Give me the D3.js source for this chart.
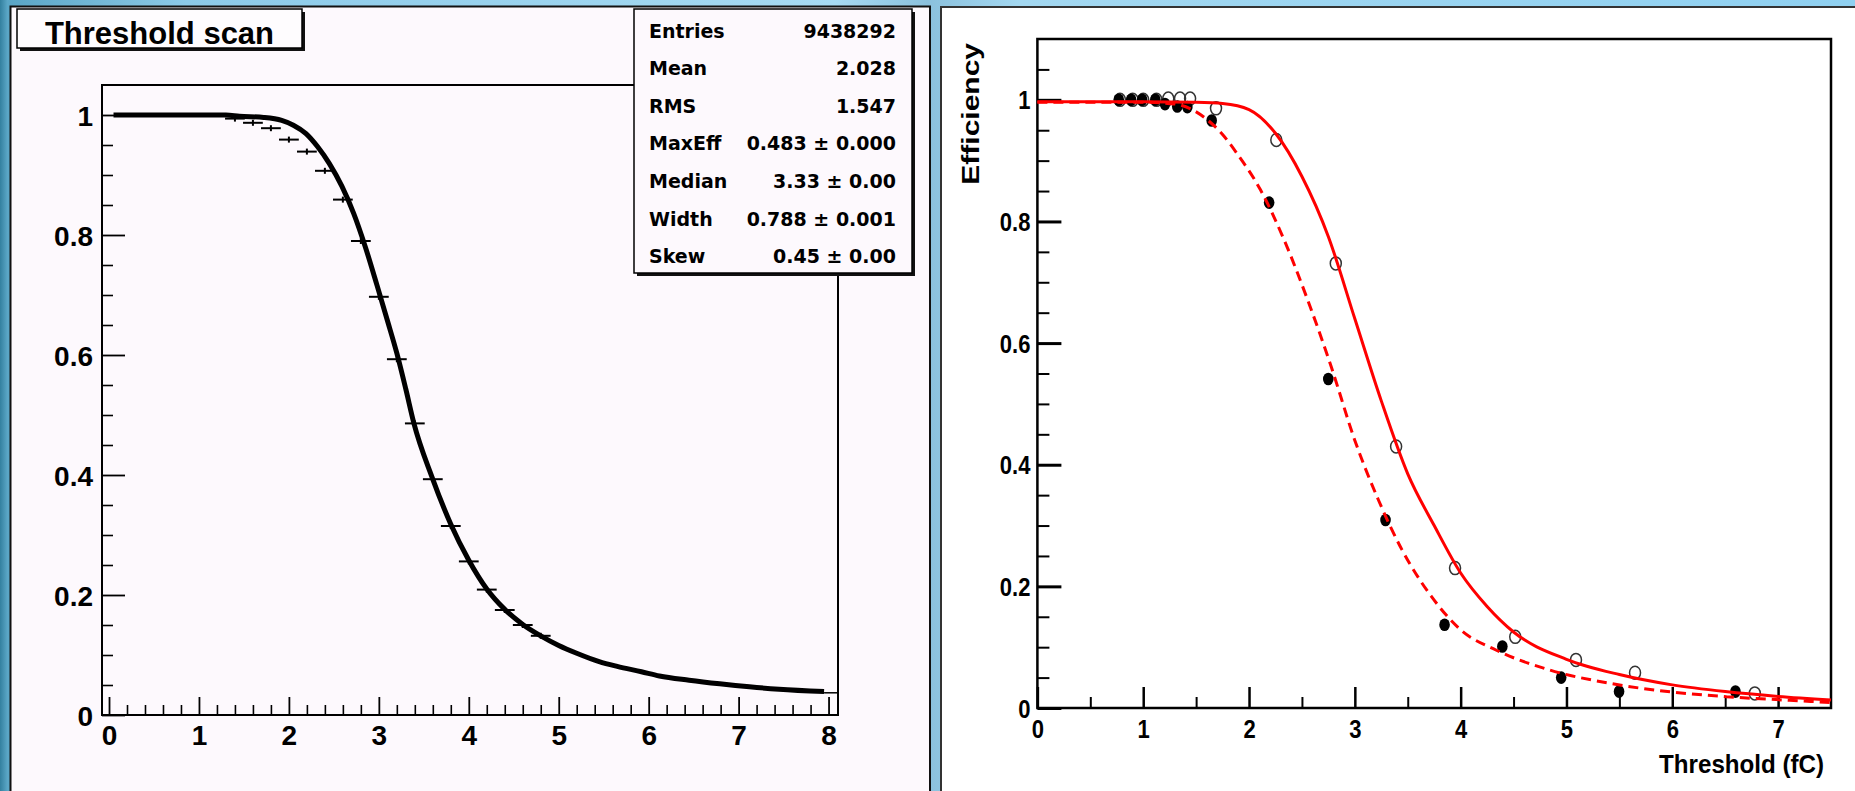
<!DOCTYPE html>
<html>
<head>
<meta charset="utf-8">
<script src="https://cdn.jsdelivr.net/npm/d3@7"></script>
<style>
  html, body { margin: 0; padding: 0; overflow: hidden; background: #9fd2ec; }
  svg { display: block; }
</style>
</head>
<body>
<svg id="chart" width="1855" height="791"></svg>
<script>
// ---------------- Left panel: threshold scan ----------------
const scanX = [0.05, 0.5, 1.0, 1.3, 1.45, 1.72, 1.92, 2.05, 2.19, 2.32, 2.45, 2.59, 2.72, 2.85, 2.98,
               3.1, 3.2, 3.3, 3.39, 3.59, 3.8, 4.0, 4.2, 4.4, 4.6, 4.8, 5.0, 5.2, 5.45, 5.65,
               5.92, 6.12, 6.45, 6.79, 7.12, 7.45, 7.95];
const scanY = [1.0, 1.0, 1.0, 1.0, 0.998, 0.996, 0.991, 0.983, 0.969, 0.947, 0.919, 0.881, 0.836, 0.78, 0.716,
               0.655, 0.603, 0.543, 0.486, 0.397, 0.318, 0.258, 0.21, 0.176, 0.151, 0.132, 0.116, 0.103, 0.089, 0.081,
               0.072, 0.065, 0.058, 0.052, 0.047, 0.043, 0.039];
const lastBinX = [7.95, 8.105];
const lastBinY = [0.037, 0.037];

const binCentres = [1.4, 1.6, 1.8, 2.0, 2.2, 2.4, 2.6, 2.8, 3.0, 3.2, 3.4, 3.6, 3.8, 4.0, 4.2, 4.4, 4.6, 4.8];
const binValues  = [0.994, 0.987, 0.978, 0.959, 0.939, 0.907, 0.859, 0.790, 0.697, 0.593, 0.486, 0.393,
                    0.315, 0.256, 0.209, 0.175, 0.150, 0.132];
const binHalfWidth = 0.11;

const scanTitle = "Threshold scan";
const statLabels = ["Entries", "Mean", "RMS", "MaxEff", "Median", "Width", "Skew"];
const statValues = ["9438292", "2.028", "1.547", "0.483 \u00b1 0.000", "3.33 \u00b1 0.00", "0.788 \u00b1 0.001", "0.45 \u00b1 0.00"];

const leftMajorX = [0, 1, 2, 3, 4, 5, 6, 7, 8];
const leftMajorY = [0, 0.2, 0.4, 0.6, 0.8, 1];

// ---------------- Right panel: efficiency vs threshold ----------------
const filledX = [0.769, 0.886, 0.99, 1.115, 1.206, 1.322, 1.417, 1.647, 2.19, 2.749, 3.29, 3.848, 4.394, 4.95, 5.497, 6.597];
const filledY = [1.0, 1.0, 1.0, 1.0, 0.993, 0.989, 0.988, 0.966, 0.831, 0.541, 0.309, 0.137, 0.101, 0.05, 0.027, 0.027];
const openX = [0.78, 0.9, 1.0, 1.125, 1.237, 1.348, 1.443, 1.688, 2.258, 2.82, 3.39, 3.947, 4.516, 5.09, 5.648, 6.78];
const openY = [1.0, 1.0, 1.0, 1.0, 1.002, 1.002, 1.002, 0.986, 0.934, 0.731, 0.43, 0.23, 0.117, 0.079, 0.058, 0.024];

const fitOpenX = [0, 0.5, 1.0, 1.5, 1.75, 2.0, 2.25, 2.5, 2.75, 3.0, 3.25, 3.5, 3.75, 4.0, 4.25, 4.5,
                  5.0, 5.5, 6.0, 6.5, 7.0, 7.5];
const fitOpenY = [0.997, 0.997, 0.997, 0.996, 0.994, 0.984, 0.945, 0.874, 0.775, 0.64, 0.505, 0.385, 0.3, 0.222, 0.167, 0.125,
                  0.08, 0.055, 0.038, 0.027, 0.019, 0.013];
const fitFilledX = [0, 0.5, 1.0, 1.3, 1.45, 1.6, 1.75, 1.885, 2.108, 2.331, 2.554, 2.777, 3.0, 3.223, 3.446, 3.725,
                    4.004, 4.338, 4.84, 5.397, 5.955, 6.512, 7.07, 7.5];
const fitFilledY = [0.996, 0.996, 0.996, 0.993, 0.985, 0.968, 0.943, 0.912, 0.852, 0.77, 0.671, 0.561, 0.44, 0.342, 0.26, 0.183,
                    0.128, 0.095, 0.0625, 0.041, 0.027, 0.0186, 0.013, 0.009];

const rightMajorX = [0, 1, 2, 3, 4, 5, 6, 7];
const rightMajorY = [0, 0.2, 0.4, 0.6, 0.8, 1];
const xTitle = "Threshold (fC)";
const yTitle = "Efficiency";

// ---------------- drawing ----------------
const svg = d3.select("#chart");
const ARIAL = "'Liberation Sans', Arial, Helvetica, sans-serif";
const DEJAVU = "'DejaVu Sans', Verdana, sans-serif";

// desktop backdrop
const defs = svg.append("defs");
const bg = defs.append("linearGradient").attr("id", "bg").attr("x1", 0).attr("x2", 1).attr("y1", 0).attr("y2", 0);
[[0, "#33809f"], [0.004, "#5aa6c6"], [0.1, "#8ccae8"], [0.45, "#a7dbf3"], [0.5, "#8bc1dd"], [0.55, "#a3d8f1"], [1, "#8fd0f0"]]
  .forEach(([o, c]) => bg.append("stop").attr("offset", o).attr("stop-color", c));
svg.append("rect").attr("width", 1855).attr("height", 791).attr("fill", "url(#bg)");

// panels
svg.append("rect").attr("x", 10.5).attr("y", 6.5).attr("width", 919.5).attr("height", 800)
  .attr("fill", "#fdf9fd").attr("stroke", "#111").attr("stroke-width", 2);
svg.append("rect").attr("x", 941).attr("y", 7).attr("width", 930).attr("height", 800)
  .attr("fill", "#ffffff").attr("stroke", "#333").attr("stroke-width", 2);

// ===== Left panel =====
const xL = d3.scaleLinear().domain([-0.078, 8.105]).range([102, 838]);
const yL = d3.scaleLinear().domain([0, 1.05]).range([715, 85]);
const gL = svg.append("g");

gL.append("rect").attr("x", xL.range()[0]).attr("y", yL.range()[1])
  .attr("width", xL.range()[1] - xL.range()[0]).attr("height", yL.range()[0] - yL.range()[1])
  .attr("fill", "none").attr("stroke", "#000").attr("stroke-width", 2);

const leftMinorX = d3.range(1, 40).map(i => i * 0.2).filter(v => Math.abs(v - Math.round(v)) > 1e-6);
const leftMinorY = d3.range(1, 21).map(i => i * 0.05).filter(v => Math.abs(v * 5 - Math.round(v * 5)) > 1e-6);

function styleAxis(g, size, weight, sw) {
  g.select(".domain").remove();
  g.selectAll("line").attr("stroke", "#000").attr("stroke-width", sw);
  g.selectAll("text").attr("font-family", ARIAL).attr("font-weight", weight)
    .attr("font-size", size).attr("fill", "#000");
}

// x axis (ticks point inward)
gL.append("g").attr("transform", `translate(0,${yL(0)})`)
  .call(d3.axisBottom(xL).tickValues(leftMinorX).tickSize(-10).tickFormat(""))
  .call(g => styleAxis(g, 28, "bold", 1.6));
gL.append("g").attr("transform", `translate(0,${yL(0)})`)
  .call(d3.axisBottom(xL).tickValues(leftMajorX).tickSize(-18).tickPadding(10).tickFormat(d3.format("d")))
  .call(g => styleAxis(g, 28, "bold", 1.8))
  .call(g => g.selectAll("text").attr("dy", "0.71em"));

// y axis
const fmtL = d => (d === 0 || d === 1) ? String(d) : d.toFixed(1);
gL.append("g").attr("transform", `translate(${xL.range()[0]},0)`)
  .call(d3.axisLeft(yL).tickValues(leftMinorY).tickSize(-11).tickFormat(""))
  .call(g => styleAxis(g, 28, "bold", 1.6));
gL.append("g").attr("transform", `translate(${xL.range()[0]},0)`)
  .call(d3.axisLeft(yL).tickValues(leftMajorY).tickSize(-23).tickPadding(9).tickFormat(fmtL))
  .call(g => styleAxis(g, 28, "bold", 1.8))
  .call(g => g.selectAll("text").attr("dy", "0.36em"));

// coarse-bin markers
const bins = binCentres.map((c, i) => ({ c, v: binValues[i] }));
const binG = gL.append("g").attr("stroke", "#000").attr("stroke-width", 2);
binG.selectAll("line.h").data(bins).join("line").attr("class", "h")
  .attr("x1", d => xL(d.c - binHalfWidth)).attr("x2", d => xL(d.c + binHalfWidth))
  .attr("y1", d => yL(d.v)).attr("y2", d => yL(d.v));
binG.selectAll("line.v").data(bins).join("line").attr("class", "v")
  .attr("x1", d => xL(d.c)).attr("x2", d => xL(d.c))
  .attr("y1", d => yL(d.v) - 3).attr("y2", d => yL(d.v) + 3);

// scan curve
const scan = scanX.map((x, i) => [x, scanY[i]]);
gL.append("path").datum(scan)
  .attr("d", d3.line().x(d => xL(d[0])).y(d => yL(d[1])).curve(d3.curveMonotoneX))
  .attr("fill", "none").attr("stroke", "#000").attr("stroke-width", 5).attr("stroke-linejoin", "round");
gL.append("path").datum(lastBinX.map((x, i) => [x, lastBinY[i]]))
  .attr("d", d3.line().x(d => xL(d[0])).y(d => yL(d[1])))
  .attr("fill", "none").attr("stroke", "#000").attr("stroke-width", 1.5);

// title box
function shadowBox(g, x, y, w, h, fill) {
  g.append("rect").attr("x", x + 3).attr("y", y + 3).attr("width", w).attr("height", h).attr("fill", "#111");
  g.append("rect").attr("x", x).attr("y", y).attr("width", w).attr("height", h)
    .attr("fill", fill).attr("stroke", "#000").attr("stroke-width", 1.5);
}
shadowBox(gL, 17, 9, 285, 39, "#fefcfe");
gL.append("text").attr("x", 159.5).attr("y", 43.5).attr("text-anchor", "middle")
  .attr("font-family", ARIAL).attr("font-weight", "bold").attr("font-size", 31).text(scanTitle);

// statistics box
shadowBox(gL, 634, 9, 278, 264, "#fdf9fd");
const statG = gL.append("g").attr("font-family", DEJAVU).attr("font-weight", "bold").attr("font-size", 19);
statLabels.forEach((lab, i) => {
  const y = 37.5 + i * 37.65;
  statG.append("text").attr("x", 649).attr("y", y).text(lab);
  statG.append("text").attr("x", 896).attr("y", y).attr("text-anchor", "end").text(statValues[i]);
});

// ===== Right panel =====
const xR = d3.scaleLinear().domain([0, 7.5]).range([1037.4, 1831]);
const yR = d3.scaleLinear().domain([0, 1.1]).range([708, 39]);
const gR = svg.append("g");
const SQ = 0.88;

gR.append("rect").attr("x", xR.range()[0]).attr("y", yR.range()[1])
  .attr("width", xR.range()[1] - xR.range()[0]).attr("height", yR.range()[0] - yR.range()[1])
  .attr("fill", "none").attr("stroke", "#000").attr("stroke-width", 2.5);

const rightMinorX = d3.range(1, 15, 2).map(i => i * 0.5);
const rightMinorY = d3.range(1, 22).map(i => i * 0.05).filter(v => Math.abs(v * 5 - Math.round(v * 5)) > 1e-6);

gR.append("g").attr("transform", `translate(0,${yR(0)})`)
  .call(d3.axisBottom(xR).tickValues(rightMinorX).tickSize(-11).tickFormat(""))
  .call(g => styleAxis(g, 25, "bold", 2));
gR.append("g").attr("transform", `translate(0,${yR(0)})`)
  .call(d3.axisBottom(xR).tickValues(rightMajorX).tickSize(-21).tickFormat(d3.format("d")))
  .call(g => styleAxis(g, 25, "bold", 2.5))
  .call(g => g.selectAll("text").attr("y", null).attr("dy", null)
    .attr("transform", `translate(0,30) scale(${SQ},1)`));

const fmtR = d => (d === 0 || d === 1) ? String(d) : d.toFixed(1);
gR.append("g").attr("transform", `translate(${xR.range()[0]},0)`)
  .call(d3.axisLeft(yR).tickValues(rightMinorY).tickSize(-12).tickFormat(""))
  .call(g => styleAxis(g, 25, "bold", 2));
gR.append("g").attr("transform", `translate(${xR.range()[0]},0)`)
  .call(d3.axisLeft(yR).tickValues(rightMajorY).tickSize(-24).tickFormat(fmtR))
  .call(g => styleAxis(g, 25, "bold", 3))
  .call(g => g.selectAll("text").attr("x", null).attr("dy", null)
    .attr("transform", `translate(-7,9) scale(${SQ},1)`));

// axis titles
const xt = gR.append("text").attr("text-anchor", "end")
  .attr("font-family", ARIAL).attr("font-weight", "bold").attr("font-size", 26).text(xTitle);
const xtLen = xt.node().getComputedTextLength();
xt.attr("transform", `translate(1824,773) scale(${165 / xtLen},1)`);

gR.append("text").attr("text-anchor", "end")
  .attr("font-family", ARIAL).attr("font-weight", "bold").attr("font-size", 30)
  .attr("transform", "translate(979,43) scale(0.8,1) rotate(-90)").text(yTitle);

// markers
const openPts = openX.map((x, i) => [x, openY[i]]);
const filledPts = filledX.map((x, i) => [x, filledY[i]]);
gR.append("g").selectAll("ellipse").data(openPts).join("ellipse")
  .attr("cx", d => xR(d[0])).attr("cy", d => yR(d[1])).attr("rx", 5.5).attr("ry", 6.5)
  .attr("fill", "none").attr("stroke", "#333").attr("stroke-width", 1.5);
gR.append("g").selectAll("ellipse").data(filledPts).join("ellipse")
  .attr("cx", d => xR(d[0])).attr("cy", d => yR(d[1])).attr("rx", 5.3).attr("ry", 6.3)
  .attr("fill", "#000");

// fit curves
const lineR = d3.line().x(d => xR(d[0])).y(d => yR(d[1])).curve(d3.curveMonotoneX);
gR.append("path").datum(fitOpenX.map((x, i) => [x, fitOpenY[i]]))
  .attr("d", lineR).attr("fill", "none").attr("stroke", "#ff0000").attr("stroke-width", 3);
gR.append("path").datum(fitFilledX.map((x, i) => [x, fitFilledY[i]]))
  .attr("d", lineR).attr("fill", "none").attr("stroke", "#ff0000").attr("stroke-width", 3)
  .attr("stroke-dasharray", "10,6");
</script>
</body>
</html>
